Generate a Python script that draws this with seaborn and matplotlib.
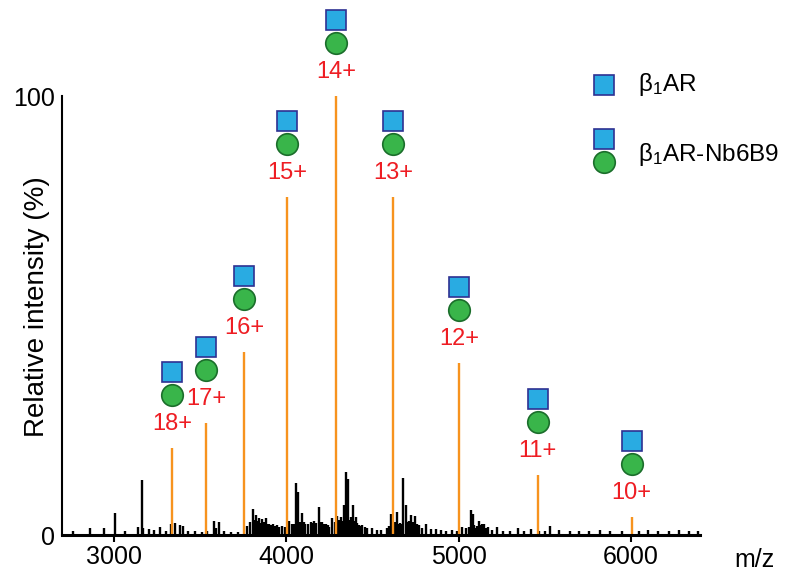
import matplotlib
matplotlib.use("Agg")
import matplotlib.pyplot as plt
from matplotlib.transforms import offset_copy
import seaborn as sns

# charge states of the complex and their peaks
charges = [18, 17, 16, 15, 14, 13, 12, 11, 10]
peak_mz = [3337, 3533, 3754, 4004, 4290, 4619, 5004, 5459, 6005]
peak_int = [19.8, 25.6, 41.7, 77.0, 100.0, 76.9, 39.2, 13.7, 4.2]

# background / noise peaks (black)
noise_mz = [2763, 2860, 2938, 3002, 3060, 3136, 3159, 3170, 3205, 3232, 3268, 3303,
            3330, 3355, 3380, 3402, 3430, 3470, 3510, 3540, 3578, 3590, 3607, 3640,
            3680, 3720, 3772, 3805, 3825, 3841, 3860, 3879, 3899, 3922, 3947, 3976,
            4015, 4034, 4057, 4069, 4092, 4111, 4141, 4160, 4187, 4208, 4228, 4250,
            4267, 4296, 4319, 4335, 4349, 4359, 4374, 4389, 4403, 4422, 4442, 4470,
            4500, 4525, 4548, 4583, 4607, 4641, 4660, 4680, 4693, 4705, 4723, 4746,
            4771, 4790, 4810, 4840, 4870, 4900, 4930, 4960, 4990, 5020, 5043, 5072,
            5082, 5100, 5117, 5136, 5150, 5169, 5195, 5222, 5260, 5300, 5344, 5380,
            5422, 5470, 5500, 5534, 5586, 5650, 5700, 5760, 5820, 5880, 5950, 6050,
            6100, 6160, 6220, 6280, 6340, 6390,
            3790, 3815, 3833, 3850, 3869, 3889, 3910, 3935, 3960, 3990, 4045, 4080,
            4102, 4125, 4150, 4175, 4198, 4218, 4240, 4280, 4308, 4327, 4342, 4366,
            4381, 4396, 4412, 4432, 4455, 4595, 4630, 4650, 4670, 4714, 4735, 4758,
            5060, 5090, 5110, 5127, 5143, 5160]
noise_int = [0.9, 1.5, 1.6, 5.1, 0.8, 1.9, 12.5, 1.5, 1.3, 1.2, 1.8, 1.0,
             2.4, 2.7, 2.3, 2.0, 1.0, 0.8, 0.7, 1.0, 3.2, 1.5, 2.9, 0.8,
             0.6, 0.6, 2.0, 5.9, 4.6, 3.9, 3.6, 3.8, 2.6, 2.5, 2.3, 2.1,
             3.3, 2.6, 11.8, 9.9, 5.1, 2.5, 2.9, 3.2, 6.4, 3.0, 2.4, 1.8,
             3.8, 4.4, 4.0, 6.8, 14.4, 12.8, 4.0, 6.8, 4.0, 2.2, 2.3, 1.5,
             1.5, 1.2, 1.2, 1.5, 4.7, 5.2, 2.7, 12.9, 6.8, 3.0, 4.5, 4.3,
             2.2, 1.5, 2.5, 1.3, 1.3, 1.2, 1.0, 1.2, 1.0, 1.9, 1.5, 5.7,
             4.8, 1.5, 3.2, 2.6, 2.5, 1.8, 1.2, 1.9, 1.0, 1.0, 1.5, 1.0,
             1.3, 1.0, 1.0, 2.1, 1.2, 1.0, 0.9, 1.0, 1.1, 0.9, 1.0, 1.0,
             1.1, 0.9, 1.0, 1.1, 0.9, 1.0,
             3.0, 3.5, 3.2, 2.8, 3.0, 2.4, 2.2, 2.0, 1.9, 1.8, 2.4, 3.0,
             3.0, 2.6, 2.8, 2.7, 2.9, 2.5, 2.2, 3.0, 3.4, 3.2, 3.6, 3.4,
             3.0, 3.2, 2.8, 2.0, 1.8, 2.0, 3.0, 2.4, 2.6, 3.2, 3.0, 2.4,
             1.8, 2.2, 2.0, 2.2, 2.0, 1.6]

x_ticks = [3000, 4000, 5000, 6000]

sns.set_theme(style="ticks")
plt.rcParams['font.family'] = ['Liberation Sans', 'DejaVu Sans']
plt.rcParams['mathtext.fontset'] = 'custom'
plt.rcParams['mathtext.rm'] = 'Liberation Sans'
plt.rcParams['mathtext.it'] = 'Liberation Sans'
for key in ['text.color', 'axes.labelcolor', 'xtick.color', 'ytick.color', 'axes.edgecolor']:
    plt.rcParams[key] = 'black'

orange = '#F7931E'
red = '#EE1D23'
blue = '#29ABE2'
navy = '#2E3192'
green = '#39B54A'
dgreen = '#1B6E2B'

fig = plt.figure(figsize=(8, 5.84), dpi=100)
ax = fig.add_axes([0.0769, 0.0839, 0.7975, 0.7517])

# spectrum
ax.vlines(noise_mz, 0, noise_int, color='black', lw=1.7, zorder=3, clip_on=False)
ax.vlines(peak_mz, 0, peak_int, color=orange, lw=1.7, zorder=4, clip_on=False)

# annotations above each charge-state peak
lab_tr = offset_copy(ax.transData, fig=fig, y=24, units='dots')
circ_tr = offset_copy(ax.transData, fig=fig, y=53, units='dots')
sq_tr = offset_copy(ax.transData, fig=fig, y=76, units='dots')
for z, mz, h in zip(charges, peak_mz, peak_int):
    ax.text(mz, h, f'{z}+', transform=lab_tr, ha='center', va='center',
            color=red, fontsize=17, clip_on=False)
ax.plot(peak_mz, peak_int, ls='none', marker='o', ms=15.5, mfc=green, mec=dgreen,
        mew=1.2, transform=circ_tr, clip_on=False, zorder=5)
ax.plot(peak_mz, peak_int, ls='none', marker='s', ms=14.5, mfc=blue, mec=navy,
        mew=1.2, transform=sq_tr, clip_on=False, zorder=6)

# axes styling
ax.set_xlim(2694, 6400)
ax.set_ylim(0, 100)
ax.set_xticks(x_ticks)
ax.set_xticklabels([str(t) for t in x_ticks], fontsize=18)
ax.set_yticks([0, 100])
ax.set_yticklabels(['0', '100'], fontsize=18)
ax.tick_params(axis='x', length=5, width=1.5, color='black', pad=2)
ax.tick_params(axis='y', length=0, pad=5)
sns.despine(ax=ax)
ax.spines['left'].set_linewidth(1.5)
ax.spines['bottom'].set_linewidth(2.2)
ax.spines['bottom'].set_zorder(6)
ax.set_ylabel('Relative intensity (%)', fontsize=20)
ax.yaxis.set_label_coords(-0.018, 0.52)
ax.text(1.086, -0.03, 'm/z', transform=ax.transAxes, fontsize=18,
        ha='center', va='top')

# legend drawn by hand
ax_f = fig.transFigure
fig.lines.append(plt.Line2D([0.755], [0.8545], transform=ax_f, ls='none', marker='s',
                            ms=14.5, mfc=blue, mec=navy, mew=1.2))
fig.lines.append(plt.Line2D([0.755], [0.762], transform=ax_f, ls='none', marker='s',
                            ms=14.5, mfc=blue, mec=navy, mew=1.2))
fig.lines.append(plt.Line2D([0.755], [0.723], transform=ax_f, ls='none', marker='o',
                            ms=15.5, mfc=green, mec=dgreen, mew=1.2))
fig.text(0.7975, 0.856, r'β$_1$AR', fontsize=17.5, va='center', ha='left')
fig.text(0.7975, 0.735, r'β$_1$AR-Nb6B9', fontsize=17.5, va='center', ha='left')

fig.savefig('out.png', dpi=100, facecolor='white')
